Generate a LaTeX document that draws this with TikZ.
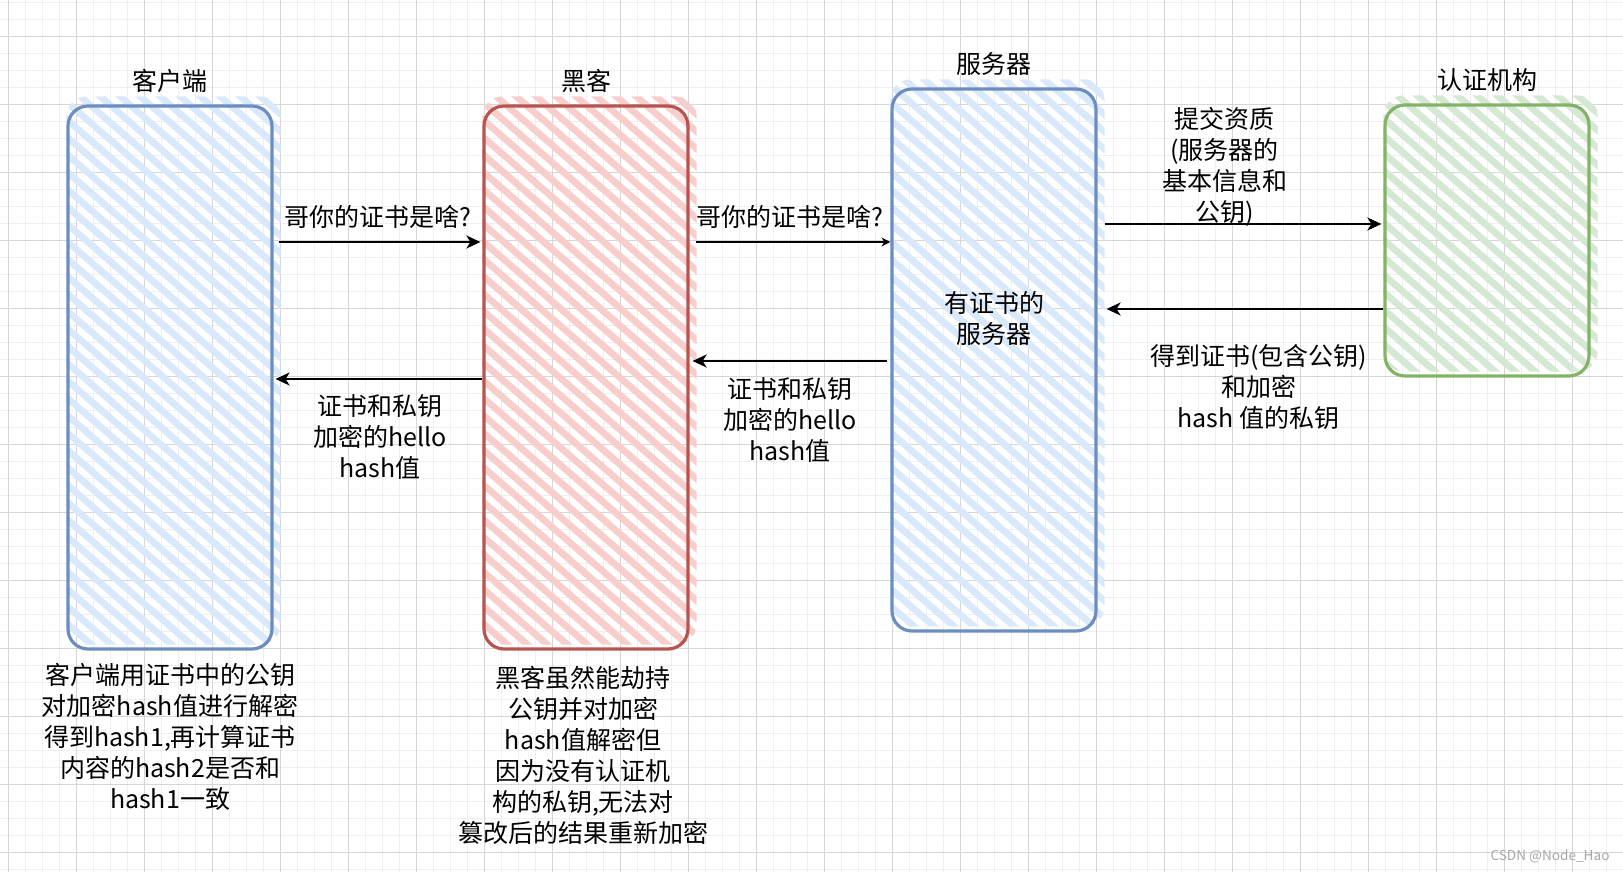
\documentclass[tikz,border=0pt]{standalone}
\usepackage{fontspec}
\setmainfont{Noto Sans CJK SC}
\usetikzlibrary{arrows.meta,positioning,calc,backgrounds}

\definecolor{blueline}{HTML}{6C8EBF}
\definecolor{bluefill}{HTML}{DAE8FC}
\definecolor{redline}{HTML}{B85450}
\definecolor{redfill}{HTML}{F8CECC}
\definecolor{greenline}{HTML}{82B366}
\definecolor{greenfill}{HTML}{D5E8D4}
\definecolor{gridminor}{HTML}{EFEFEF}
\definecolor{gridmajor}{HTML}{D6D6D6}

% sketchy hatch behind a box, a bit up and to the right
\newcommand{\hatchbox}[2]{%
  \begin{scope}[on background layer]
    \begin{scope}
      \clip[rounded corners=10pt] ([yshift=3pt]#1.south west) rectangle ([xshift=3.5pt,yshift=4pt]#1.north east);
      \foreach \i in {-660,-640,...,240}
        \draw[#2, line width=3.4pt] ($(#1.north west)+(\i,-20)$) -- ++(700,608);
    \end{scope}
  \end{scope}}

\begin{document}
\begin{tikzpicture}[x=0.5pt,y=-0.5pt,
    party/.style={draw=#1, line width=1.6pt, rounded corners=10pt,
                  minimum width=102pt, inner sep=0pt},
    txt/.style={font=\fontsize{12.5pt}{15.5pt}\selectfont, align=center, inner sep=0pt},
    msg/.style={-{Stealth[length=7pt,width=6.5pt,inset=2pt]}, line width=1pt}]

  \useasboundingbox (0,0) rectangle (1623,872);

  % grid
  \begin{scope}[on background layer]
    \foreach \x in {8,25,...,1623} \draw[gridminor] (\x,0) -- (\x,872);
    \foreach \y in {2,19,...,872} \draw[gridminor] (0,\y) -- (1623,\y);
    \foreach \x in {8,76,...,1623} \draw[gridmajor] (\x,0) -- (\x,872);
    \foreach \y in {36,104,...,872} \draw[gridmajor] (0,\y) -- (1623,\y);
  \end{scope}

  \node[party=blueline, minimum height=271.5pt]  (client) at (170,377.5) {};
  \node[party=redline, minimum height=271.5pt]   (hacker) at (586,377.5) {};
  \node[party=blueline, minimum height=271pt]    (server) at (994,360)   {};
  \node[party=greenline, minimum height=135.5pt] (ca)     at (1487,240.5) {};

  \hatchbox{client}{bluefill}
  \hatchbox{hacker}{redfill}
  \hatchbox{server}{bluefill}
  \hatchbox{ca}{greenfill}

  \node[txt, above=5.5pt of client] (clientT) {客户端};
  \node[txt, above=5.5pt of hacker] (hackerT) {黑客};
  \node[txt, above=5.5pt of server] (serverT) {服务器};
  \node[txt, above=5.5pt of ca]     (caT)     {认证机构};
  \node[txt] (serverIn) at (994,318) {有证书的\\服务器};

  \coordinate (lv0) at (0,224);
  \coordinate (lv1) at (0,242);
  \coordinate (lv2) at (0,309);
  \coordinate (lv3) at (0,361);
  \coordinate (lv4) at (0,379);

  \draw[msg, shorten <=2.5pt, shorten >=1pt] (client.east |- lv1)
    -- node[txt, above=6pt] (ask1) {哥你的证书是啥?} (hacker.west |- lv1);
  \draw[msg, -{Stealth[length=4.5pt,width=4.5pt]}, shorten <=3pt] (hacker.east |- lv1)
    -- node[txt, above=6pt] (ask2) {哥你的证书是啥?} (server.west |- lv1);
  \draw[msg, shorten <=3.5pt, shorten >=1pt] (server.east |- lv0)
    -- node[txt, above=-1.5pt, xshift=-8pt] (apply) {提交资质\\(服务器的\\基本信息和\\公钥)} (ca.west |- lv0);
  \draw[msg, shorten >=4.5pt] (ca.west |- lv2)
    -- node[txt, below=17pt, xshift=9pt] (issue) {得到证书(包含公钥)\\和加密\\hash 值的私钥} (server.east |- lv2);
  \draw[msg, shorten <=1.5pt, shorten >=1.5pt] (server.west |- lv3)
    -- node[txt, below=8pt] (reply2) {证书和私钥\\加密的hello\\hash值} (hacker.east |- lv3);
  \draw[msg, shorten >=1pt] (hacker.west |- lv4)
    -- node[txt, below=7.5pt, xshift=1pt] (reply1) {证书和私钥\\加密的hello\\hash值} (client.east |- lv4);

  \node[txt, below=6pt of client] (clientNote)
    {客户端用证书中的公钥\\对加密hash值进行解密\\得到hash1,再计算证书\\内容的hash2是否和\\hash1一致};
  \node[txt, below=7.5pt of hacker, xshift=-1.5pt] (hackerNote)
    {黑客虽然能劫持\\公钥并对加密\\hash值解密但\\因为没有认证机\\构的私钥,无法对\\篡改后的结果重新加密};

  \node[font=\fontsize{6.8pt}{8pt}\selectfont, text=gray!70, inner sep=0pt] (mark) at (1550,856) {CSDN @Node\_Hao};
\end{tikzpicture}
\end{document}
